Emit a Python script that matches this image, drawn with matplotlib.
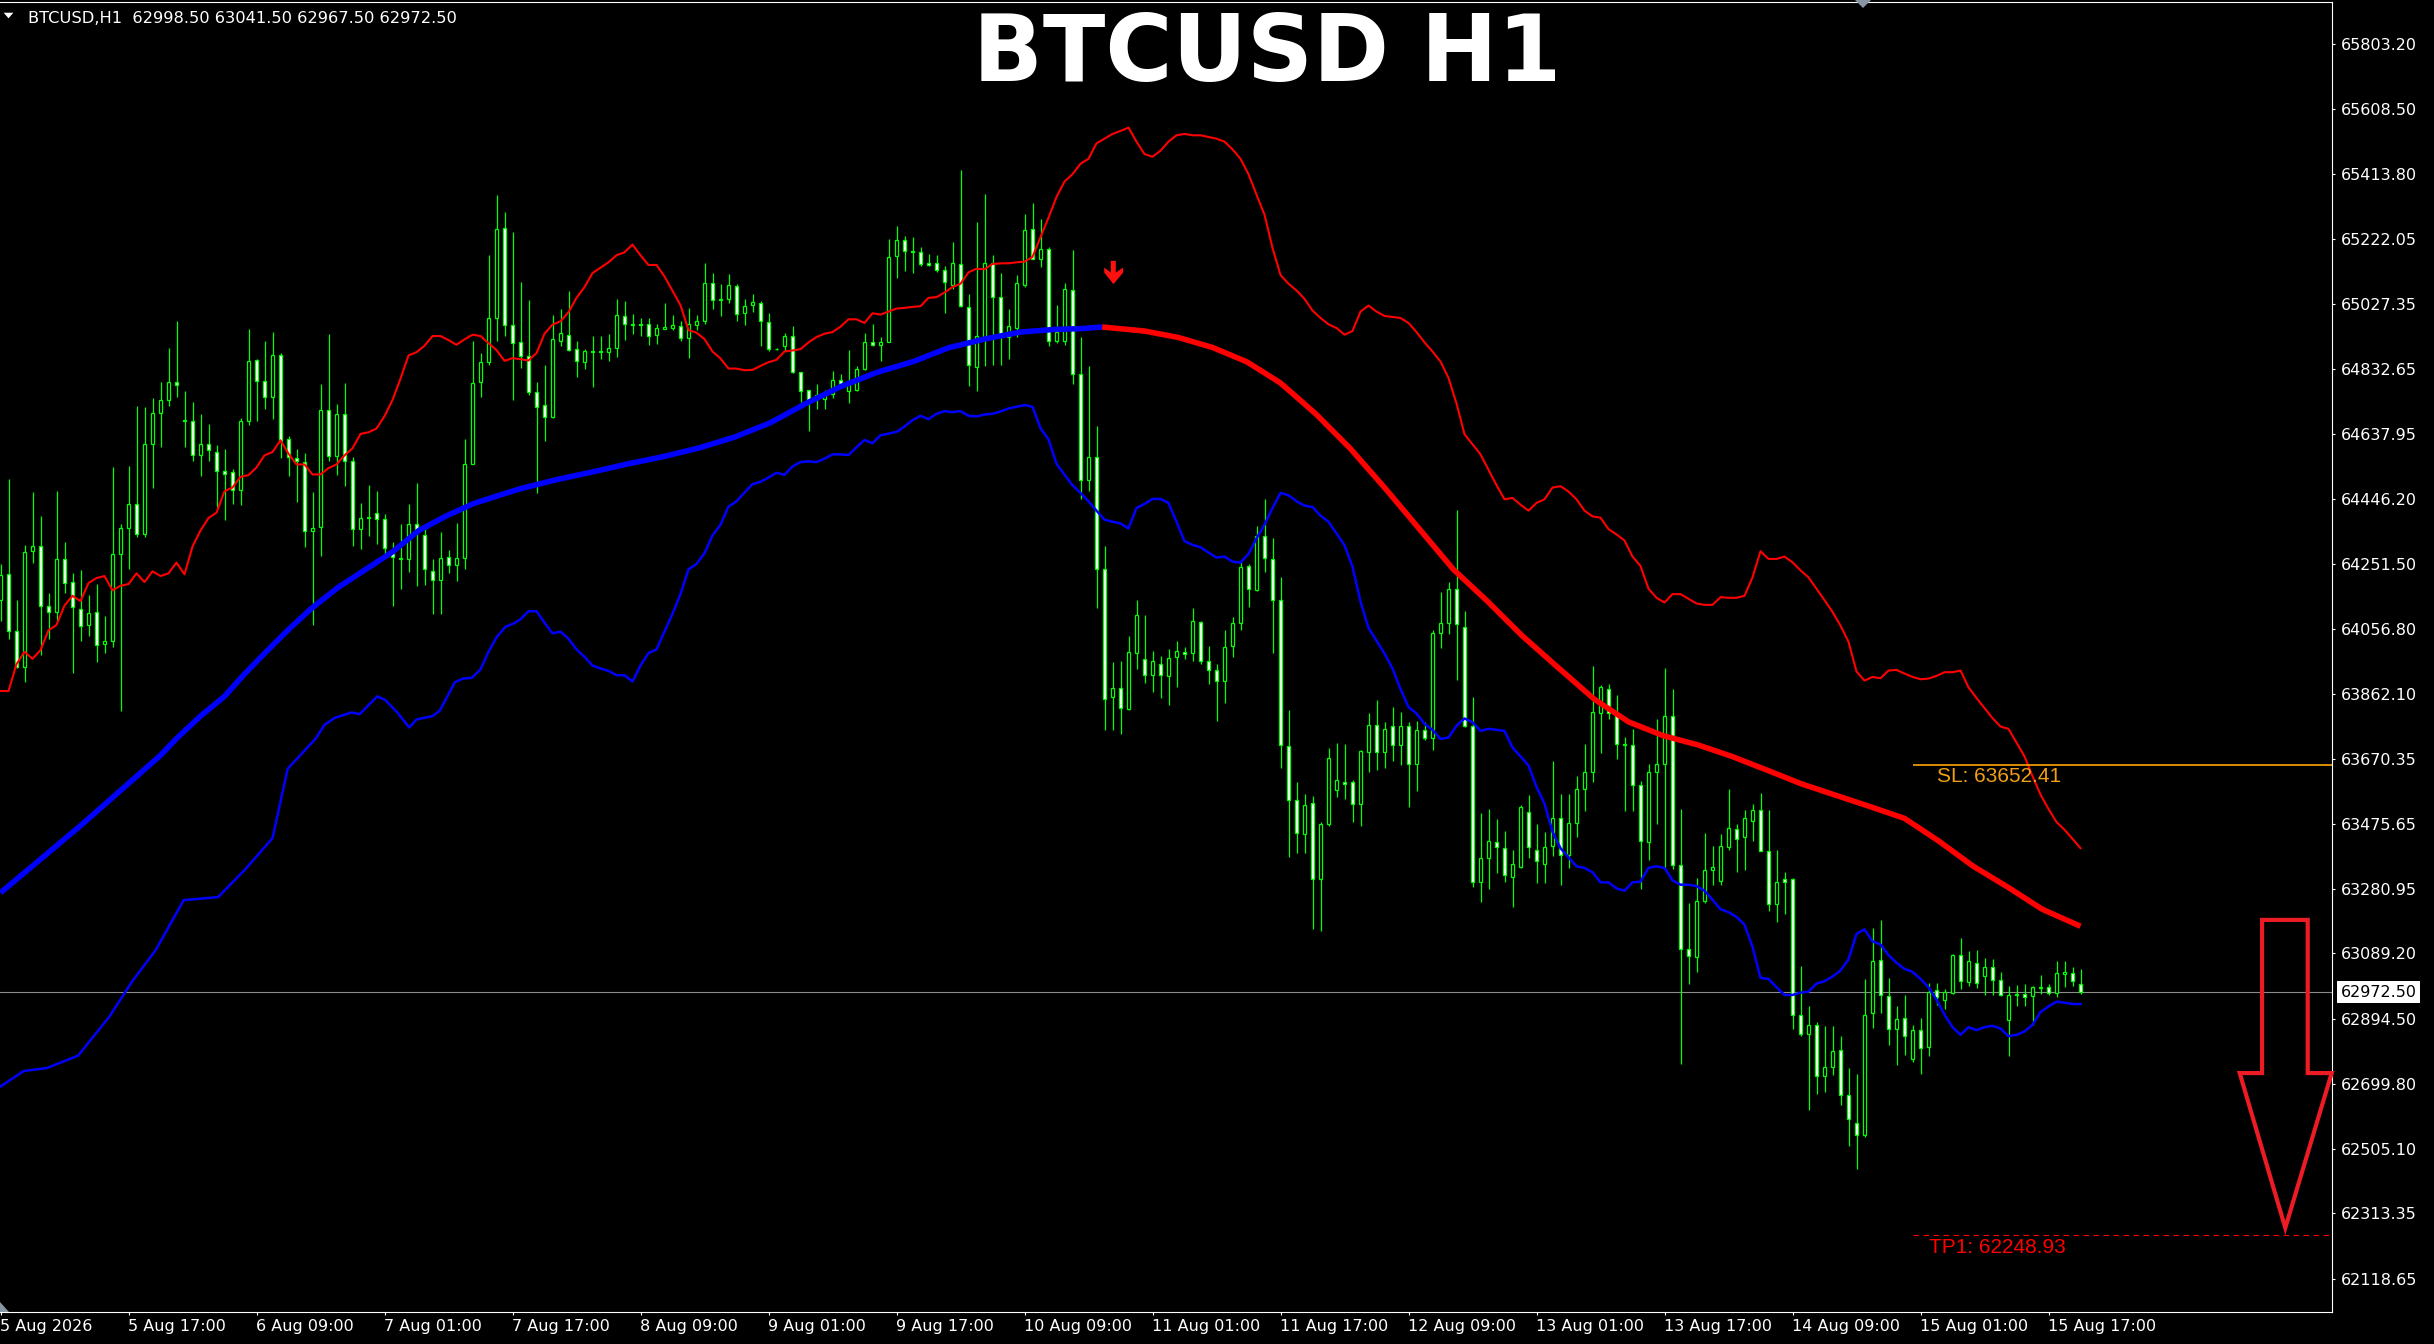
import numpy as np
import matplotlib.pyplot as plt
from matplotlib.patches import Polygon
from matplotlib.path import Path

# ==========================================
# 数据：BTCUSD H1 K线
# ==========================================
opens = [64143, 64221, 64051, 63944, 64290, 64305, 64125, 64108, 64266, 64197,
         64117, 64069, 64108, 64012, 64021, 64280, 64358, 64429, 64340, 64609,
         64701, 64740, 64795, 64682, 64677, 64577, 64609, 64585, 64529, 64525,
         64473, 64677, 64859, 64797, 64748, 64875, 64623, 64567, 64555, 64348,
         64362, 64710, 64573, 64697, 64559, 64354, 64388, 64402, 64385, 64292,
         64265, 64265, 64369, 64337, 64231, 64202, 64271, 64248, 64269, 64548,
         64793, 64853, 64985, 65253, 64963, 64913, 64872, 64765, 64725, 64690,
         64917, 64935, 64892, 64853, 64883, 64883, 64884, 64896, 64991, 64965,
         64968, 64967, 64935, 64952, 64954, 64962, 64925, 64963, 64975, 65089,
         65038, 65041, 65079, 65000, 65023, 65031, 64973, 64892, 64901, 64931,
         64823, 64770, 64755, 64744, 64759, 64800, 64768, 64770, 64834, 64914,
         64904, 64914, 65169, 65217, 65185, 65181, 65148, 65148, 65128, 65082,
         65146, 65018, 64839, 64928, 65149, 65047, 64928, 64956, 65084, 65249,
         65160, 65191, 64915, 64915, 65067, 64818, 64502, 64570, 64235, 63855,
         63881, 63817, 63984, 63966, 63920, 63954, 63916, 63972, 63989, 63984,
         64079, 63961, 63934, 63901, 64007, 64076, 64246, 64174, 64334, 64266,
         64144, 63707, 63548, 63444, 63539, 63312, 63475, 63577, 63601, 63599,
         63535, 63691, 63771, 63691, 63768, 63710, 63768, 63653, 63756, 63733,
         64045, 64076, 64177, 64063, 63768, 63303, 63373, 63421, 63403, 63318,
         63348, 63510, 63398, 63357, 63409, 63493, 63383, 63479, 63581, 63629,
         63807, 63878, 63805, 63714, 63711, 63592, 63421, 63629, 63654, 63798,
         63353, 63102, 63079, 63246, 63339, 63305, 63406, 63461, 63437, 63485,
         63516, 63396, 63235, 63312, 63312, 62906, 62849, 62876, 62723, 62749,
         62801, 62668, 62582, 62547, 62910, 63068, 62962, 62862, 62897, 62773,
         62860, 62810, 62979, 62951, 62972, 63084, 63003, 63061, 63022, 63047,
         63010, 62890, 62964, 62968, 62961, 62987, 62990, 62972, 63029, 63031,
         62998.5]
highs = [64252, 64505, 64143, 64308, 64466, 64395, 64165, 64468, 64317, 64224,
         64234, 64159, 64191, 64095, 64541, 64369, 64543, 64721, 64718, 64746,
         64795, 64896, 64976, 64767, 64734, 64699, 64668, 64607, 64595, 64535,
         64686, 64953, 64862, 64915, 64944, 64880, 64633, 64594, 64582, 64466,
         64788, 64937, 64729, 64791, 64571, 64433, 64487, 64468, 64399, 64317,
         64369, 64431, 64493, 64362, 64266, 64346, 64292, 64374, 64623, 64915,
         64880, 65173, 65352, 65301, 65242, 65091, 65039, 64794, 64844, 64995,
         65013, 65066, 64917, 64893, 64930, 64931, 64936, 65042, 65036, 64997,
         64984, 64984, 64968, 65031, 64993, 64975, 65016, 64995, 65149, 65119,
         65085, 65116, 65087, 65042, 65057, 65036, 65000, 64896, 64940, 64962,
         64825, 64770, 64789, 64770, 64826, 64818, 64890, 64842, 64940, 64968,
         64928, 65220, 65258, 65231, 65228, 65197, 65176, 65172, 65140, 65212,
         65426, 65057, 65272, 65354, 65172, 65119, 65013, 65114, 65295, 65329,
         65281, 65196, 65023, 65090, 65189, 64928, 64841, 64664, 64304, 63957,
         63961, 64037, 64144, 64098, 63992, 63977, 63996, 64022, 64002, 64121,
         64080, 64007, 63954, 64053, 64094, 64258, 64250, 64365, 64444, 64327,
         64212, 63814, 63601, 63566, 63558, 63482, 63703, 63718, 63715, 63607,
         63695, 63805, 63844, 63779, 63825, 63809, 63779, 63783, 63779, 64053,
         64167, 64197, 64413, 64111, 63855, 63508, 63520, 63490, 63455, 63399,
         63531, 63561, 63475, 63452, 63662, 63566, 63566, 63619, 63714, 63948,
         63889, 63892, 63859, 63736, 63759, 63602, 63654, 63787, 63941, 63878,
         63520, 63239, 63314, 63448, 63410, 63444, 63581, 63476, 63517, 63536,
         63568, 63517, 63399, 63332, 63314, 63050, 62931, 62883, 62873, 62872,
         62842, 62746, 62728, 63013, 63164, 63188, 63017, 62931, 62965, 62876,
         62897, 63002, 63002, 62983, 63088, 63136, 63095, 63098, 63075, 63071,
         63034, 62992, 62995, 62999, 62992, 63024, 62999, 63065, 63065, 63047,
         63041.5]
lows = [64082, 64026, 63941, 63898, 64255, 63978, 64026, 64079, 64165, 63925,
        64021, 64037, 63957, 63986, 64003, 63813, 64237, 64330, 64332, 64479,
        64601, 64721, 64748, 64601, 64559, 64514, 64559, 64422, 64383, 64431,
        64428, 64667, 64678, 64713, 64684, 64567, 64513, 64436, 64301, 64069,
        64274, 64559, 64516, 64484, 64305, 64295, 64335, 64312, 64280, 64127,
        64175, 64228, 64186, 64188, 64101, 64101, 64223, 64199, 64236, 64548,
        64748, 64846, 64915, 64931, 64740, 64836, 64755, 64462, 64619, 64686,
        64901, 64885, 64808, 64834, 64778, 64864, 64858, 64869, 64920, 64938,
        64931, 64903, 64906, 64951, 64949, 64917, 64867, 64949, 64968, 65013,
        64991, 65029, 64975, 64965, 65004, 64901, 64885, 64890, 64887, 64821,
        64733, 64647, 64714, 64714, 64746, 64778, 64730, 64768, 64830, 64901,
        64858, 64912, 65103, 65124, 65119, 65140, 65140, 65121, 64999, 65071,
        65018, 64782, 64768, 64842, 64844, 64844, 64864, 64928, 65077, 65160,
        65137, 64901, 64909, 64905, 64788, 64444, 64468, 64121, 63756, 63756,
        63744, 63814, 63939, 63896, 63870, 63852, 63829, 63885, 63966, 63961,
        63954, 63893, 63783, 63835, 63972, 64053, 64124, 64170, 64228, 63984,
        63642, 63376, 63388, 63388, 63163, 63155, 63470, 63555, 63551, 63482,
        63470, 63631, 63637, 63642, 63662, 63650, 63525, 63574, 63726, 63695,
        64000, 64042, 63905, 63764, 63287, 63242, 63281, 63330, 63303, 63227,
        63345, 63373, 63300, 63300, 63379, 63292, 63345, 63437, 63513, 63599,
        63687, 63787, 63670, 63513, 63513, 63280, 63369, 63476, 63342, 63342,
        62760, 62997, 63034, 63239, 63294, 63294, 63399, 63331, 63339, 63424,
        63394, 63216, 63184, 63207, 62862, 62842, 62623, 62671, 62675, 62725,
        62637, 62513, 62447, 62541, 62865, 62910, 62815, 62756, 62787, 62764,
        62728, 62783, 62934, 62924, 62968, 62983, 62993, 62986, 62965, 62965,
        62961, 62784, 62931, 62931, 62876, 62969, 62965, 62958, 62988, 62992,
        62967.5]
closes = [64218, 64051, 63944, 64287, 64305, 64125, 64108, 64266, 64193, 64124,
          64067, 64104, 64008, 64021, 64280, 64358, 64429, 64340, 64609, 64701,
          64740, 64795, 64784, 64677, 64577, 64609, 64591, 64529, 64518, 64473,
          64677, 64857, 64797, 64748, 64873, 64619, 64569, 64559, 64348, 64358,
          64710, 64573, 64697, 64559, 64354, 64388, 64391, 64385, 64298, 64273,
          64269, 64369, 64342, 64236, 64204, 64269, 64248, 64269, 64548, 64791,
          64853, 64985, 65251, 64963, 64910, 64871, 64765, 64720, 64688, 64922,
          64941, 64890, 64856, 64887, 64885, 64885, 64896, 64995, 64967, 64968,
          64965, 64930, 64955, 64959, 64964, 64925, 64968, 64975, 65089, 65039,
          65041, 65082, 64997, 65021, 65034, 64975, 64892, 64891, 64931, 64824,
          64768, 64738, 64750, 64762, 64800, 64786, 64789, 64832, 64914, 64904,
          64914, 65167, 65217, 65185, 65183, 65146, 65144, 65128, 65093, 65149,
          65021, 64844, 64930, 65149, 65047, 64933, 64960, 65089, 65247, 65162,
          65191, 64917, 64943, 65072, 64818, 64502, 64570, 64235, 63847, 63881,
          63821, 63987, 64098, 63920, 63961, 63919, 63969, 63992, 63981, 64080,
          63961, 63934, 63901, 64003, 64076, 64243, 64177, 64334, 64270, 64144,
          63710, 63548, 63447, 63531, 63312, 63475, 63672, 63607, 63595, 63535,
          63692, 63771, 63691, 63759, 63710, 63768, 63653, 63756, 63733, 64045,
          64076, 64177, 64071, 63768, 63303, 63373, 63424, 63406, 63322, 63357,
          63525, 63406, 63364, 63406, 63493, 63383, 63479, 63581, 63629, 63810,
          63883, 63805, 63714, 63712, 63592, 63424, 63629, 63654, 63798, 63353,
          63102, 63081, 63246, 63339, 63346, 63410, 63462, 63431, 63492, 63516,
          63396, 63235, 63303, 63303, 62906, 62849, 62876, 62723, 62750, 62798,
          62668, 62595, 62547, 62906, 63065, 62965, 62862, 62893, 62842, 62860,
          62808, 62975, 62958, 62975, 63084, 63006, 63065, 63002, 63047, 63010,
          62965, 62965, 62969, 62958, 62988, 62988, 62972, 63031, 63033, 63006,
          62972.5]

# 上轨（红色细线），每根K线一个值
upper_band = [63872, 63872, 63952, 63989, 63968, 63994, 64053, 64069, 64127, 64156,
              64140, 64194, 64209, 64215, 64172, 64186, 64191, 64223, 64197, 64229,
              64215, 64223, 64255, 64220, 64303, 64351, 64388, 64404, 64468, 64479,
              64511, 64516, 64539, 64575, 64585, 64620, 64580, 64548, 64548, 64518,
              64518, 64537, 64548, 64575, 64596, 64639, 64644, 64655, 64692, 64740,
              64804, 64873, 64883, 64902, 64931, 64931, 64919, 64905, 64921, 64935,
              64931, 64910, 64889, 64857, 64865, 64862, 64858, 64880, 64938, 64965,
              64975, 65002, 65045, 65077, 65119, 65135, 65151, 65172, 65181, 65204,
              65172, 65143, 65143, 65109, 65066, 65023, 64949, 64941, 64922, 64885,
              64864, 64834, 64834, 64829, 64830, 64842, 64853, 64860, 64885, 64888,
              64892, 64912, 64928, 64938, 64943, 64959, 64981, 64981, 64970, 64999,
              64995, 65004, 65013, 65015, 65018, 65020, 65045, 65047, 65061, 65077,
              65087, 65121, 65132, 65130, 65146, 65148, 65148, 65151, 65153, 65167,
              65226, 65284, 65346, 65392, 65414, 65445, 65460, 65506, 65520, 65534,
              65543, 65553, 65511, 65474, 65466, 65484, 65511, 65530, 65534, 65530,
              65530, 65525, 65520, 65511, 65488, 65460, 65414, 65353, 65293, 65194,
              65113, 65087, 65067, 65042, 65007, 64985, 64966, 64955, 64935, 64946,
              65004, 65022, 65004, 64991, 64988, 64985, 64970, 64943, 64912, 64885,
              64855, 64806, 64730, 64638, 64608, 64578, 64532, 64486, 64444, 64448,
              64428, 64410, 64433, 64444, 64479, 64483, 64467, 64444, 64410, 64393,
              64389, 64355, 64339, 64321, 64273, 64245, 64177, 64150, 64136, 64161,
              64161, 64147, 64133, 64129, 64129, 64152, 64150, 64150, 64156, 64211,
              64289, 64266, 64266, 64273, 64256, 64232, 64211, 64177, 64143, 64108,
              64067, 64019, 63930, 63903, 63914, 63910, 63933, 63935, 63924, 63914,
              63907, 63909, 63917, 63928, 63928, 63933, 63883, 63851, 63821, 63791,
              63766, 63759, 63718, 63677, 63618, 63563, 63520, 63481, 63458, 63431,
              63403]

# 下轨（蓝色细线）：前段为读取的采样点，后段每根K线一个值
lower_early_x = [0, 2.9, 5.8, 9.7, 13.6, 16.5, 19.4, 22.9, 27.2, 30.6, 34, 35.9,
                 39.4, 40.5, 41.8, 43.9, 44.9, 47.1, 48.1, 49.6, 51.1, 52, 54, 54.9,
                 56.8, 57.8, 58.9, 60, 61, 62, 63.1, 64.2]
lower_early_y = [62692, 62738, 62747, 62784, 62900, 63007, 63099, 63248, 63257, 63340,
                 63433, 63640, 63730, 63771, 63792, 63808, 63803, 63856, 63845, 63808,
                 63763, 63787, 63797, 63813, 63898, 63909, 63911, 63936, 63989, 64032,
                 64063, 64074]
lower_late = [64086, 64110, 64110, 64076, 64044, 64049, 64028, 63996, 63974, 63948,
              63939, 63932, 63919, 63919, 63900, 63948, 63985, 63996, 64049, 64102,
              64161, 64235, 64251, 64283, 64336, 64368, 64422, 64438, 64464, 64489,
              64496, 64509, 64523, 64517, 64542, 64555, 64557, 64555, 64565, 64578,
              64578, 64576, 64599, 64621, 64611, 64635, 64640, 64645, 64661, 64680,
              64693, 64683, 64699, 64707, 64704, 64707, 64693, 64691, 64697, 64699,
              64706, 64715, 64720, 64725, 64720, 64656, 64623, 64550, 64517, 64486,
              64463, 64438, 64410, 64383, 64377, 64372, 64357, 64418, 64430, 64445,
              64445, 64433, 64377, 64319, 64308, 64301, 64285, 64270, 64273, 64258,
              64255, 64281, 64327, 64368, 64418, 64463, 64456, 64438, 64425, 64421,
              64395, 64377, 64342, 64307, 64243, 64139, 64060, 64022, 63984, 63939,
              63878, 63824, 63805, 63774, 63756, 63729, 63733, 63768, 63790, 63779,
              63753, 63759, 63756, 63753, 63703, 63677, 63650, 63586, 63536, 63452,
              63403, 63376, 63349, 63344, 63331, 63301, 63301, 63283, 63276, 63301,
              63303, 63344, 63349, 63344, 63307, 63294, 63294, 63290, 63276, 63249,
              63221, 63212, 63198, 63175, 63109, 63016, 63013, 62988, 62965, 62965,
              62972, 62975, 62999, 63006, 63020, 63038, 63071, 63147, 63161, 63125,
              63116, 63084, 63061, 63043, 63034, 63013, 62988, 62951, 62906, 62869,
              62846, 62869, 62860, 62869, 62873, 62865, 62842, 62846, 62856, 62876,
              62914, 62931, 62945, 62942, 62938, 62938]

# 粗均线（采样点）
ma_x = [0, 10, 20, 22, 25, 28, 30.4, 33, 35.9, 38.8, 42.2, 45.6, 49, 52.3, 55.7, 59.1,
        62.5, 64.9, 69.4, 73.9, 78.3, 82.8, 87.3, 91.7, 96.2, 100.7, 105.1, 109.6,
        114.1, 118.5, 123, 127.5, 131.9, 135, 137.7, 143, 147.2, 151.5, 155.8, 160,
        164.4, 168.7, 173, 177.3, 181.6, 185.9, 190.2, 194.5, 199.2, 203.5, 207.8,
        212.2, 216.4, 220.8, 225.1, 229.4, 233.7, 238, 242.3, 246.6, 250.9, 255.2, 260]
ma_y = [63270, 63470, 63680, 63730, 63797, 63856, 63920, 63984, 64053, 64117, 64181,
        64234, 64287, 64351, 64394, 64431, 64457, 64475, 64502, 64525, 64549, 64571,
        64597, 64629, 64672, 64730, 64781, 64823, 64855, 64896, 64922, 64943, 64951,
        64953, 64958, 64946, 64927, 64897, 64854, 64791, 64699, 64596, 64479, 64357,
        64235, 64139, 64037, 63946, 63848, 63780, 63739, 63711, 63677, 63636, 63595,
        63561, 63527, 63492, 63424, 63349, 63287, 63221, 63170]
ma_turn = 137.7

# 刻度
ytick_vals = [65803.20, 65608.50, 65413.80, 65222.05, 65027.35, 64832.65, 64637.95,
              64446.20, 64251.50, 64056.80, 63862.10, 63670.35, 63475.65, 63280.95,
              63089.20, 62894.50, 62699.80, 62505.10, 62313.35, 62118.65]
xtick_labels = ['5 Aug 2026', '5 Aug 17:00', '6 Aug 09:00', '7 Aug 01:00', '7 Aug 17:00',
                '8 Aug 09:00', '9 Aug 01:00', '9 Aug 17:00', '10 Aug 09:00', '11 Aug 01:00',
                '11 Aug 17:00', '12 Aug 09:00', '13 Aug 01:00', '13 Aug 17:00',
                '14 Aug 09:00', '15 Aug 01:00', '15 Aug 17:00']
bars_per_label = 16

# 交易水平
last_price = 62972.50
sl_price = 63652.41
tp_price = 62248.93
level_start_bar = 239
signal_bar, signal_price = 139, 65123
# 右侧大箭头（K线序号, 价格）
arrow_x = [282.7, 288.4, 288.4, 291.4, 285.6, 279.9, 282.7]
arrow_y = [63189, 63189, 62732, 62732, 62270, 62732, 62732]

# ==========================================
# 画图
# ==========================================
W, H = 2434, 1344
plt.rcParams['font.family'] = ['DejaVu Sans']
fig = plt.figure(figsize=(W / 100, H / 100), dpi=100, facecolor='black')
ax = fig.add_axes([0, 32 / H, 2332 / W, 1310 / H], facecolor='black')

n = len(opens)
x = np.arange(n)
o = np.array(opens, dtype=float)
c = np.array(closes, dtype=float)
green = '#00ff00'

# 影线
ax.vlines(x, lows, highs, color=green, lw=0.9, zorder=2)
# 实体：阴线白色，阳线黑色
body_bottom = np.minimum(o, c)
body_height = np.maximum(np.abs(c - o), 1.0)
face = ['white' if cc < oo else 'black' for oo, cc in zip(o, c)]
ax.bar(x, body_height, 0.45, bottom=body_bottom, color=face, edgecolor=green,
       linewidth=0.9, zorder=3)

# 指标线
ax.plot(x, upper_band, color='#ff0000', lw=1.5, zorder=4)
lower_x = lower_early_x + list(range(65, 65 + len(lower_late)))
ax.plot(lower_x, lower_early_y + lower_late, color='#0000ff', lw=1.8, zorder=4)
ma_x_arr = np.array(ma_x)
ma_y_arr = np.array(ma_y)
up = ma_x_arr <= ma_turn
ax.plot(ma_x_arr[up], ma_y_arr[up], color='#0000ff', lw=4, zorder=5,
        solid_capstyle='butt')
ax.plot(ma_x_arr[~up | (ma_x_arr == ma_turn)], ma_y_arr[~up | (ma_x_arr == ma_turn)],
        color='#ff0000', lw=4, zorder=5, solid_capstyle='butt')

# 当前价格线与标签
ax.axhline(last_price, color='#8c8c8c', lw=0.8, zorder=1)
ax.text(1.0037, last_price, f'{last_price:.2f}', transform=ax.get_yaxis_transform(),
        ha='left', va='center', fontsize=11.5, color='black', clip_on=False,
        bbox=dict(boxstyle='square,pad=0.22', fc='white', ec='none'))

# 止损 / 止盈
xr = (2332 - 0.5) / 8
ax.hlines(sl_price, level_start_bar, xr, color='#ffa500', lw=1.2, zorder=4)
ax.text(level_start_bar + 3.1, sl_price - 8, f'SL: {sl_price:.2f}', color='#f0a010',
        fontsize=15, family='Liberation Sans', ha='left', va='top', zorder=6)
ax.hlines(tp_price, level_start_bar, xr, color='#ff0000', lw=0.8,
          linestyles=(0, (5, 4)), zorder=4)
ax.text(level_start_bar + 2.1, tp_price - 8, f'TP1: {tp_price:.2f}', color='#ff0000',
        fontsize=15, family='Liberation Sans', ha='left', va='top', zorder=6)

# 信号箭头
arrow_marker = Path([(-2.7, 11.7), (2.3, 11.7), (2.3, 0), (9.7, 5), (9.7, 0), (0, -11.7),
                     (-9.3, 0), (-9.3, 5), (-2.7, 0), (-2.7, 11.7)])
ax.plot([signal_bar], [signal_price], marker=arrow_marker, markersize=16.8,
        color='#ff1010', mec='none', zorder=6)

# 大箭头（空心）
ax.add_patch(Polygon(np.column_stack([arrow_x, arrow_y]), closed=True, fill=False,
                     edgecolor='#ed1c24', lw=3, joinstyle='miter', clip_on=False, zorder=7))

# 坐标轴
ax.set_xlim(-0.5 / 8, xr)
ax.set_ylim(62019.1, 65927.7)
ax.yaxis.tick_right()
ax.set_yticks(ytick_vals)
ax.set_yticklabels([f'{v:.2f}' for v in ytick_vals])
ax.set_xticks(np.arange(len(xtick_labels)) * bars_per_label)
ax.set_xticklabels(xtick_labels)
for lbl in ax.get_xticklabels():
    lbl.set_ha('left')
ax.tick_params(axis='y', colors='white', length=2.2, width=0.8, pad=4, labelsize=11.5)
ax.tick_params(axis='x', colors='white', length=2.2, width=0.8, pad=2.5, labelsize=11.5)
for side in ['top', 'right', 'bottom']:
    ax.spines[side].set_color('white')
    ax.spines[side].set_linewidth(0.8)
ax.spines['left'].set_visible(False)

# 标题与左上角信息
fig.text(1266.7 / W, 1 - 81 / H, 'BTCUSD H1', color='white', fontsize=66,
         fontweight='bold', ha='center', va='baseline')
fig.text(27.7 / W, 1 - 23.3 / H,
         f'BTCUSD,H1  {opens[-1]:.2f} {highs[-1]:.2f} {lows[-1]:.2f} {closes[-1]:.2f}',
         color='white', fontsize=11.7, ha='left', va='baseline')
fig.patches.append(Polygon([(3.6 / W, 1 - 12.7 / H), (13.4 / W, 1 - 12.7 / H),
                            (8.5 / W, 1 - 18.3 / H)], closed=True, fc='white', ec='none',
                           transform=fig.transFigure, figure=fig))
fig.patches.append(Polygon([(1855 / W, 1 - 0 / H), (1871 / W, 1 - 0 / H),
                            (1863 / W, 1 - 8 / H)], closed=True, fc='#8896a4', ec='none',
                           transform=fig.transFigure, figure=fig))
fig.patches.append(Polygon([(0, 1 - 1302 / H), (9 / W, 1 - 1312 / H), (0, 1 - 1312 / H)],
                           closed=True, fc='#8896a4', ec='none',
                           transform=fig.transFigure, figure=fig))

fig.savefig('out.png', dpi=100, facecolor='black')
